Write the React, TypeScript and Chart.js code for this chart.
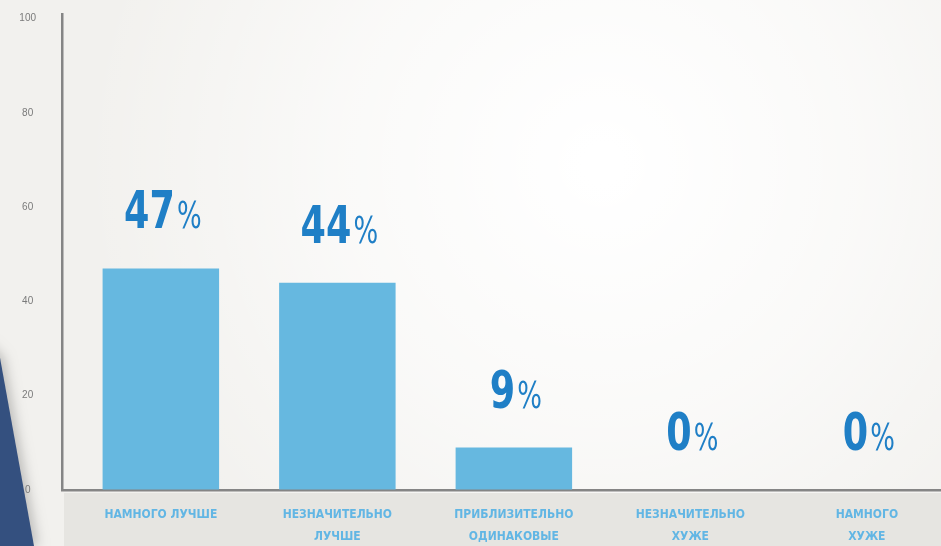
import React, { useEffect, useRef } from "react";
import { Chart, registerables } from "chart.js";

Chart.register(...registerables);

const categories: string[][] = [
  ["НАМНОГО ЛУЧШЕ"],
  ["НЕЗНАЧИТЕЛЬНО", "ЛУЧШЕ"],
  ["ПРИБЛИЗИТЕЛЬНО", "ОДИНАКОВЫЕ"],
  ["НЕЗНАЧИТЕЛЬНО", "ХУЖЕ"],
  ["НАМНОГО", "ХУЖЕ"],
];
const percentages: number[] = [47, 44, 9, 0, 0];
const yTickValues: number[] = [0, 20, 40, 60, 80, 100];

const NARROW = "'Liberation Sans Narrow', 'DejaVu Sans Condensed', 'Roboto', sans-serif";

const backgroundPlugin = {
  id: "bgDecor",
  beforeDraw(chart: any) {
    const { ctx, width, height } = chart;
    const xScale = chart.scales.x;
    ctx.save();
    ctx.fillStyle = "#f2f1ee";
    ctx.fillRect(0, 0, width, height);
    const g = ctx.createRadialGradient(width * 0.64, height * 0.3, 20, width * 0.64, height * 0.3, width * 0.55);
    g.addColorStop(0, "rgba(255,255,255,1)");
    g.addColorStop(0.5, "rgba(255,255,255,0.6)");
    g.addColorStop(1, "rgba(255,255,255,0)");
    ctx.fillStyle = g;
    ctx.fillRect(0, 0, width, height);
    ctx.fillStyle = "#e6e5e1";
    ctx.fillRect(xScale.left + 2, xScale.top + 3, width - xScale.left, height - xScale.top);
    ctx.shadowColor = "rgba(0,0,0,0.22)";
    ctx.shadowBlur = 12;
    ctx.shadowOffsetX = 4;
    ctx.fillStyle = "#34507f";
    ctx.beginPath();
    ctx.moveTo(-20, height * 0.62);
    ctx.lineTo(0, height * 0.655);
    ctx.lineTo(34, height);
    ctx.lineTo(-20, height);
    ctx.closePath();
    ctx.fill();
    ctx.restore();
  },
};

const valueLabelPlugin = {
  id: "valueLabels",
  afterDatasetsDraw(chart: any) {
    const { ctx } = chart;
    const meta = chart.getDatasetMeta(0);
    const sx = 0.78;
    ctx.save();
    ctx.textBaseline = "alphabetic";
    ctx.textAlign = "left";
    ctx.fillStyle = "#1f7fc6";
    meta.data.forEach((bar: any, i: number) => {
      const num = String(percentages[i]);
      ctx.font = `bold 52px ${NARROW}`;
      const w1 = ctx.measureText(num).width * sx;
      ctx.font = `37px ${NARROW}`;
      const w2 = ctx.measureText("%").width * sx;
      const total = w1 + 2 + w2;
      const x0 = bar.x - total / 2 + 2;
      const yb = bar.y - 40;
      ctx.save();
      ctx.translate(x0, yb);
      ctx.scale(sx, 1);
      ctx.font = `bold 52px ${NARROW}`;
      ctx.fillText(num, 0, 0);
      ctx.font = `37px ${NARROW}`;
      ctx.fillText("%", (w1 + 2) / sx, 0);
      ctx.restore();
    });
    ctx.restore();
  },
};

export default function App() {
  const canvasRef = useRef<HTMLCanvasElement | null>(null);

  useEffect(() => {
    if (!canvasRef.current) return;
    const chart = new Chart(canvasRef.current, {
      type: "bar",
      data: {
        datasets: [
          {
            data: percentages.map((v, i) => ({ x: i, y: v })),
            backgroundColor: "#66b8e0",
            borderWidth: 0,
            barPercentage: 0.66,
            categoryPercentage: 1,
          },
        ],
      },
      options: {
        animation: false,
        responsive: true,
        maintainAspectRatio: false,
        layout: { padding: { top: 14, left: 0, right: 0, bottom: 0 } },
        plugins: {
          legend: { display: false },
          tooltip: { enabled: false },
          title: { display: false },
        },
        scales: {
          x: {
            type: "linear",
            offset: false,
            min: -0.56,
            max: 4.42,
            grid: { display: false, drawTicks: false, offset: false },
            border: { display: true, color: "#858585", width: 2.5 },
            afterBuildTicks: (scale: any) => {
              scale.ticks = categories.map((_, i) => ({ value: i }));
            },
            afterFit: (scale: any) => {
              scale.height = 56;
            },
            ticks: {
              autoSkip: false,
              maxRotation: 0,
              minRotation: 0,
              padding: 14,
              color: "#62b6e4",
              font: { family: NARROW, size: 12, weight: "bold", lineHeight: 1.8 },
              callback: (value: any) => categories[Math.round(Number(value))] ?? "",
            },
          },
          y: {
            min: 0,
            max: 101,
            grid: {
              display: true,
              drawOnChartArea: false,
              drawTicks: true,
              tickLength: 24,
              tickColor: "rgba(0,0,0,0)",
            },
            border: { display: true, color: "#858585", width: 2.5 },
            afterBuildTicks: (scale: any) => {
              scale.ticks = yTickValues.map((v) => ({ value: v }));
            },
            afterFit: (scale: any) => {
              scale.width = 62;
            },
            ticks: {
              crossAlign: "center",
              padding: 2,
              color: "#7a7a7a",
              font: { family: "'Liberation Sans', 'DejaVu Sans', sans-serif", size: 10 },
            },
          },
        },
      },
      plugins: [backgroundPlugin, valueLabelPlugin],
    } as any);
    return () => chart.destroy();
  }, []);

  return (
    <div style={{ position: "absolute", left: 0, top: 0, width: 941, height: 546 }}>
      <canvas ref={canvasRef} />
    </div>
  );
}
